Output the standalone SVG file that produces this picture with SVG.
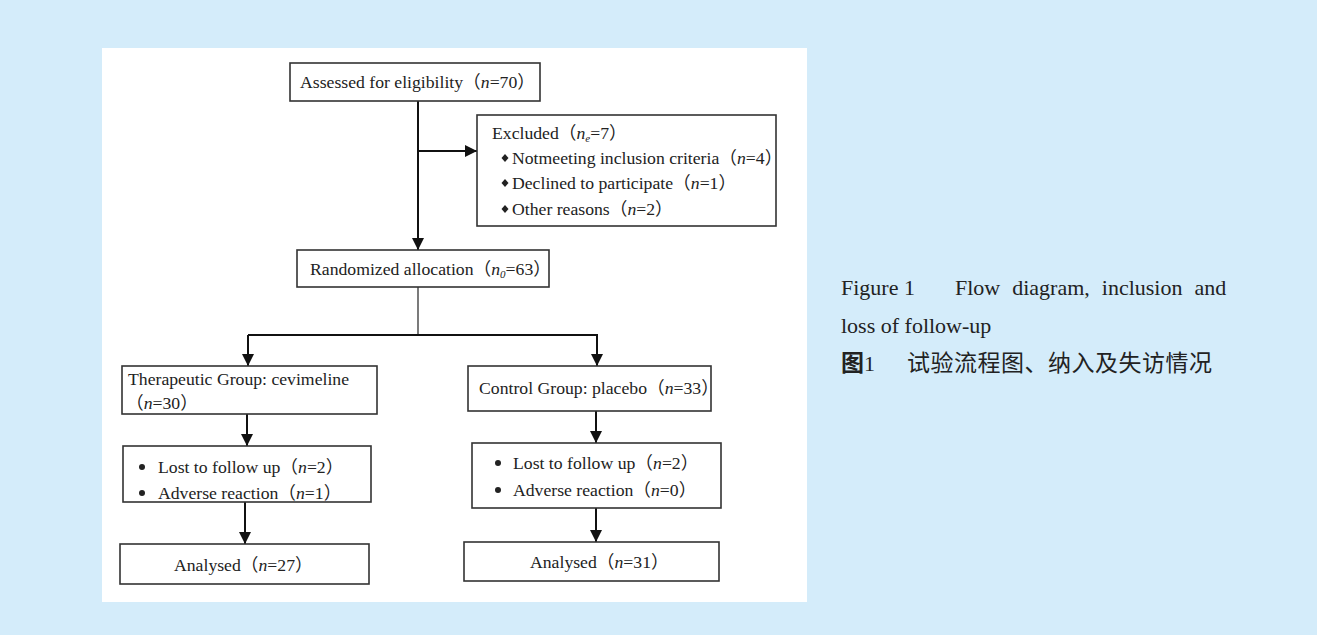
<svg xmlns="http://www.w3.org/2000/svg" width="1317" height="635" viewBox="0 0 1317 635">
<defs>
<style>
.box{fill:#fff;stroke:#333;stroke-width:1.6}
.t{font-family:"Liberation Serif","Noto Sans CJK SC",serif;font-size:17.7px;fill:#222}
.cap{font-family:"Liberation Serif","Noto Sans CJK SC",serif;font-size:22px;fill:#222}
.cjk{font-family:"Noto Sans CJK SC",sans-serif;font-size:23px;fill:#222}
.ln{fill:none;stroke:#111;stroke-width:2}
.thin{fill:none;stroke:#222;stroke-width:1.2}
.i{font-style:italic}
</style>
<marker id="ah" markerUnits="userSpaceOnUse" markerWidth="12" markerHeight="14" viewBox="0 0 12 14" refX="12" refY="6" orient="auto">
<path d="M0,0 L12,6 L0,12 Z" fill="#111"/>
</marker>
</defs>
<rect x="0" y="0" width="1317" height="635" fill="#d4ecfa"/>
<rect x="102" y="48" width="705" height="554" fill="#fff"/>

<g id="connectors">
<line class="ln" x1="418" y1="101" x2="418" y2="250" marker-end="url(#ah)"/>
<line class="ln" x1="418" y1="151" x2="477" y2="151" marker-end="url(#ah)"/>
<line class="thin" x1="418" y1="287" x2="418" y2="335"/>
<polyline class="ln" points="248,335 597,335 597,366" marker-end="url(#ah)"/>
<line class="ln" x1="248" y1="335" x2="248" y2="366" marker-end="url(#ah)"/>
<line class="ln" x1="247" y1="414" x2="247" y2="446" marker-end="url(#ah)"/>
<line class="ln" x1="245" y1="502" x2="245" y2="544" marker-end="url(#ah)"/>
<line class="ln" x1="596" y1="411" x2="596" y2="443" marker-end="url(#ah)"/>
<line class="ln" x1="596" y1="508" x2="596" y2="542" marker-end="url(#ah)"/>
</g>

<g id="assessed">
<rect class="box" x="290" y="63" width="250" height="38"/>
<text class="t" x="300" y="88">Assessed for eligibility（<tspan class="i">n</tspan>=70）</text>
</g>

<g id="excluded">
<rect class="box" x="477" y="115" width="299" height="111"/>
<text class="t" x="492" y="139">Excluded（<tspan class="i">n</tspan><tspan class="i" font-size="11" dy="3">e</tspan><tspan dy="-3">=7）</tspan></text>
<polygon points="505,154 508.5,158 505,162 501.5,158" fill="#222"/>
<text class="t" x="512" y="164">Notmeeting inclusion criteria（<tspan class="i">n</tspan>=4）</text>
<polygon points="505,179 508.5,183 505,187 501.5,183" fill="#222"/>
<text class="t" x="512" y="189">Declined to participate（<tspan class="i">n</tspan>=1）</text>
<polygon points="505,205 508.5,209 505,213 501.5,209" fill="#222"/>
<text class="t" x="512" y="215">Other reasons（<tspan class="i">n</tspan>=2）</text>
</g>

<g id="randomized">
<rect class="box" x="297" y="250" width="252" height="37"/>
<text class="t" x="310" y="275">Randomized allocation（<tspan class="i">n</tspan><tspan class="i" font-size="11" dy="3">0</tspan><tspan dy="-3">=63）</tspan></text>
</g>

<g id="therapeutic">
<rect class="box" x="122" y="366" width="255" height="48"/>
<text class="t" x="128" y="385">Therapeutic Group: cevimeline</text>
<text class="t" x="126" y="409">（<tspan class="i">n</tspan>=30）</text>
</g>

<g id="control">
<rect class="box" x="468" y="366" width="243" height="45"/>
<text class="t" x="479" y="394">Control Group: placebo（<tspan class="i">n</tspan>=33）</text>
</g>

<g id="lost-left">
<rect class="box" x="123" y="446" width="248" height="56"/>
<circle cx="142" cy="467" r="3" fill="#222"/>
<text class="t" x="158" y="473">Lost to follow up（<tspan class="i">n</tspan>=2）</text>
<circle cx="142" cy="493" r="3" fill="#222"/>
<text class="t" x="158" y="499">Adverse reaction（<tspan class="i">n</tspan>=1）</text>
</g>

<g id="lost-right">
<rect class="box" x="472" y="443" width="249" height="65"/>
<circle cx="498" cy="463" r="3" fill="#222"/>
<text class="t" x="513" y="469">Lost to follow up（<tspan class="i">n</tspan>=2）</text>
<circle cx="498" cy="490" r="3" fill="#222"/>
<text class="t" x="513" y="496">Adverse reaction（<tspan class="i">n</tspan>=0）</text>
</g>

<g id="analysed-left">
<rect class="box" x="120" y="544" width="249" height="40"/>
<text class="t" x="174" y="571">Analysed（<tspan class="i">n</tspan>=27）</text>
</g>

<g id="analysed-right">
<rect class="box" x="464" y="542" width="255" height="39"/>
<text class="t" x="530" y="568">Analysed（<tspan class="i">n</tspan>=31）</text>
</g>

<g id="caption">
<text class="cap" x="841" y="295">Figure 1</text>
<text class="cap" x="955" y="295" word-spacing="6.5">Flow diagram, inclusion and</text>
<text class="cap" x="841" y="333">loss of follow-up</text>
<text class="cjk" x="841" y="371" font-weight="bold">图</text>
<text class="cap" x="864" y="371">1</text>
<text class="cjk" x="907" y="371" letter-spacing="0.5">试验流程图、纳入及失访情况</text>
</g>
</svg>
